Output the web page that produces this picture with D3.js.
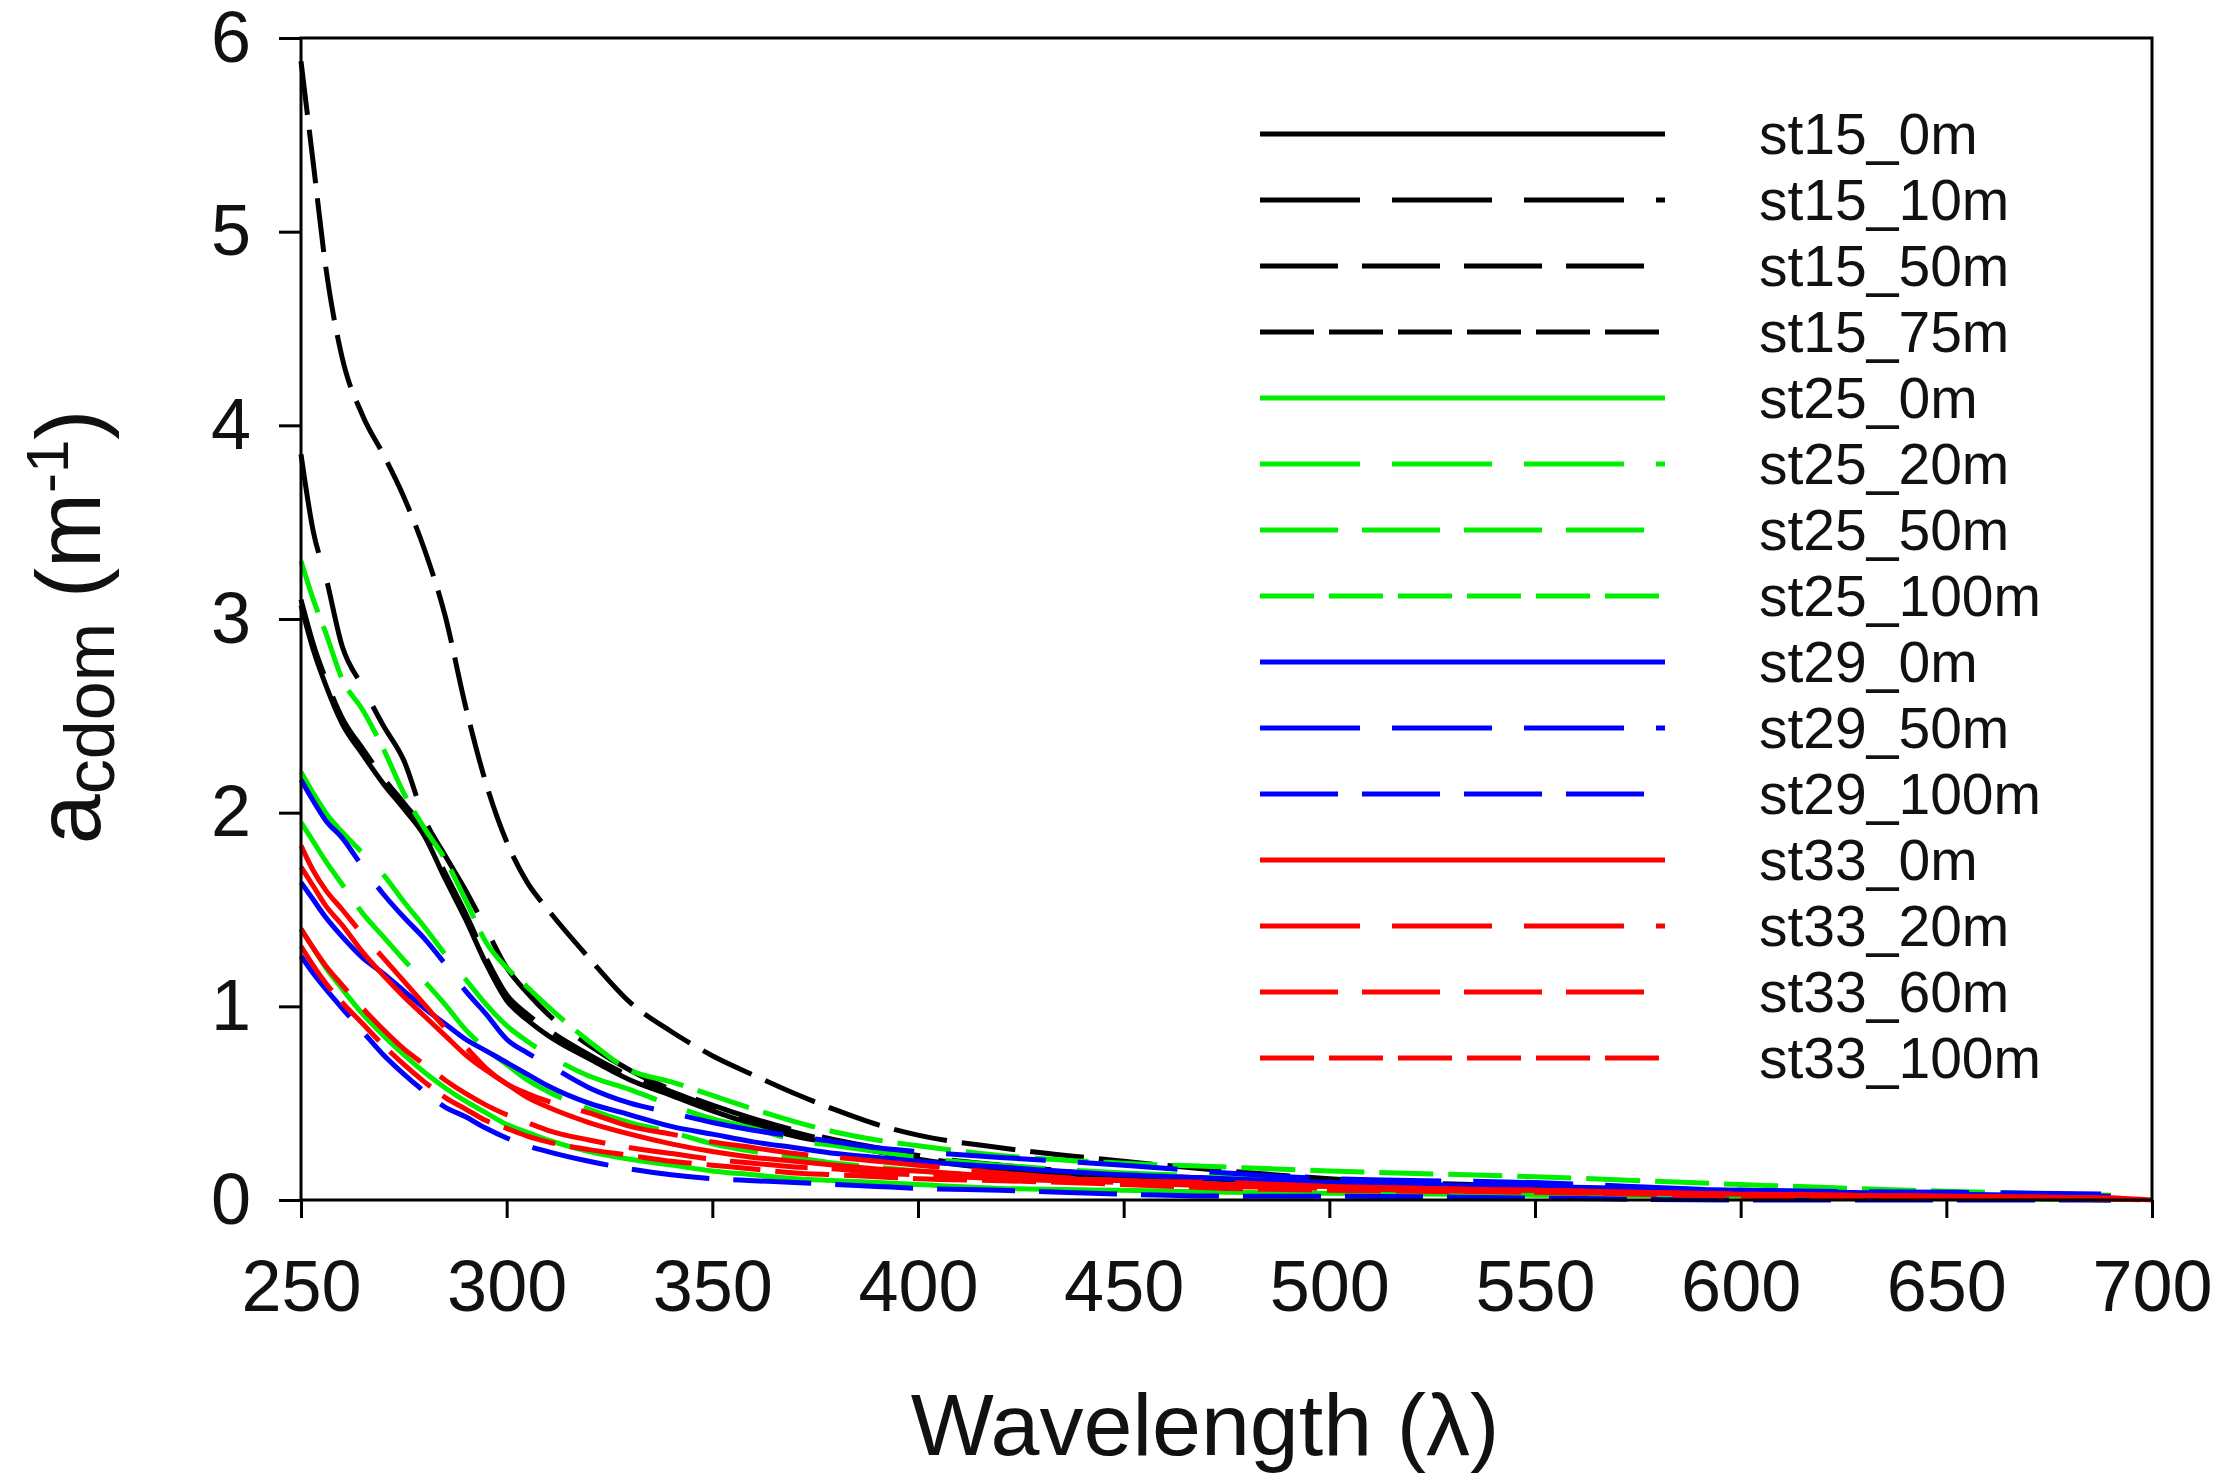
<!DOCTYPE html>
<html>
<head>
<meta charset="utf-8">
<script src="https://cdn.jsdelivr.net/npm/d3@7"></script>
<style>
  body { margin: 0; background: #fff; }
  svg { display: block; font-family: "Liberation Sans", Arial, sans-serif; }
</style>
</head>
<body>
<svg id="chart"></svg>
<script>
// wavelengths (nm) the curves were read at
const wavelengths = [250, 253, 256, 260, 265, 270, 275, 280, 285, 290, 295, 300, 305, 310, 320, 330,
                     340, 350, 360, 370, 380, 390, 400, 420, 450, 475, 500, 550, 600, 650, 690, 700];

const seriesNames = ['st15_0m', 'st15_10m', 'st15_50m', 'st15_75m',
                     'st25_0m', 'st25_20m', 'st25_50m', 'st25_100m',
                     'st29_0m', 'st29_50m', 'st29_100m',
                     'st33_0m', 'st33_20m', 'st33_60m', 'st33_100m'];

const st15_0m  = [3.07, 2.84, 2.66, 2.46, 2.30, 2.15, 2.02, 1.88, 1.66, 1.45, 1.22, 1.03, 0.93, 0.85, 0.73, 0.62,
                  0.54, 0.46, 0.39, 0.33, 0.29, 0.25, 0.21, 0.16, 0.12, 0.10, 0.08, 0.05, 0.03, 0.02, 0.00, null];
const st15_10m = [3.85, 3.45, 3.22, 2.86, 2.65, 2.45, 2.27, 1.97, 1.78, 1.60, 1.40, 1.20, 1.07, 0.96, 0.80, 0.67,
                  0.57, 0.49, 0.42, 0.36, 0.31, 0.27, 0.23, 0.18, 0.13, 0.10, 0.08, 0.05, 0.03, 0.02, 0.01, null];
const st15_50m = [3.10, 2.87, 2.69, 2.49, 2.33, 2.18, 2.05, 1.91, 1.69, 1.48, 1.25, 1.06, 0.96, 0.88, 0.75, 0.64,
                  0.56, 0.48, 0.41, 0.35, 0.30, 0.26, 0.22, 0.17, 0.13, 0.11, 0.09, 0.05, 0.03, 0.02, 0.01, null];
const st15_75m = [5.88, 5.35, 4.82, 4.35, 4.05, 3.85, 3.63, 3.36, 3.02, 2.55, 2.15, 1.85, 1.64, 1.50, 1.25, 1.02,
                  0.87, 0.745, 0.645, 0.55, 0.465, 0.39, 0.335, 0.27, 0.20, 0.15, 0.11, 0.07, 0.04, 0.02, 0.01, null];

const st25_0m   = [1.40, 1.30, 1.20, 1.09, 0.96, 0.85, 0.75, 0.66, 0.58, 0.51, 0.45, 0.39, 0.35, 0.31, 0.25, 0.21,
                   0.18, 0.15, 0.13, 0.11, 0.10, 0.09, 0.08, 0.06, 0.05, 0.04, 0.035, 0.025, 0.02, 0.01, 0.00, null];
const st25_20m  = [2.21, 2.10, 2.00, 1.90, 1.79, 1.68, 1.54, 1.41, 1.27, 1.14, 1.01, 0.90, 0.82, 0.75, 0.64, 0.57,
                   0.49, 0.42, 0.37, 0.31, 0.28, 0.25, 0.22, 0.18, 0.14, 0.12, 0.10, 0.07, 0.05, 0.03, 0.02, null];
const st25_50m  = [1.95, 1.85, 1.75, 1.63, 1.48, 1.36, 1.24, 1.13, 1.01, 0.88, 0.78, 0.70, 0.62, 0.56, 0.47, 0.40,
                   0.35, 0.29, 0.25, 0.22, 0.19, 0.17, 0.15, 0.12, 0.10, 0.08, 0.07, 0.05, 0.03, 0.02, 0.01, null];
const st25_100m = [3.30, 3.10, 2.93, 2.69, 2.53, 2.33, 2.10, 1.92, 1.76, 1.55, 1.33, 1.20, 1.10, 1.00, 0.82, 0.67,
                   0.61, 0.54, 0.47, 0.405, 0.35, 0.31, 0.28, 0.23, 0.19, 0.17, 0.15, 0.12, 0.08, 0.045, 0.025, null];

const st29_0m   = [1.64, 1.55, 1.46, 1.36, 1.25, 1.17, 1.08, 0.99, 0.91, 0.83, 0.77, 0.71, 0.65, 0.59, 0.50, 0.44,
                   0.38, 0.34, 0.30, 0.27, 0.24, 0.22, 0.20, 0.17, 0.13, 0.11, 0.09, 0.07, 0.05, 0.03, 0.02, null];
const st29_50m  = [2.17, 2.06, 1.96, 1.87, 1.72, 1.58, 1.46, 1.35, 1.22, 1.08, 0.96, 0.83, 0.76, 0.70, 0.58, 0.50,
                   0.45, 0.40, 0.36, 0.33, 0.30, 0.27, 0.25, 0.22, 0.18, 0.14, 0.11, 0.09, 0.05, 0.04, 0.03, null];
const st29_100m = [1.26, 1.17, 1.09, 0.99, 0.87, 0.75, 0.65, 0.56, 0.48, 0.43, 0.37, 0.32, 0.28, 0.25, 0.20, 0.16,
                   0.13, 0.11, 0.10, 0.09, 0.08, 0.07, 0.06, 0.05, 0.03, 0.02, 0.02, 0.01, 0.00, 0.00, 0.00, null];

const st33_0m   = [1.72, 1.62, 1.52, 1.42, 1.28, 1.16, 1.05, 0.95, 0.85, 0.75, 0.67, 0.60, 0.53, 0.48, 0.40, 0.34,
                   0.29, 0.25, 0.22, 0.20, 0.18, 0.16, 0.15, 0.12, 0.10, 0.08, 0.07, 0.05, 0.03, 0.02, 0.01, 0.00];
const st33_20m  = [1.83, 1.70, 1.60, 1.50, 1.37, 1.25, 1.13, 1.01, 0.89, 0.79, 0.68, 0.60, 0.55, 0.51, 0.45, 0.38,
                   0.34, 0.30, 0.27, 0.24, 0.22, 0.20, 0.18, 0.14, 0.10, 0.09, 0.07, 0.05, 0.03, 0.02, 0.01, 0.00];
const st33_60m  = [1.40, 1.30, 1.21, 1.11, 0.99, 0.88, 0.78, 0.70, 0.62, 0.55, 0.49, 0.44, 0.40, 0.36, 0.31, 0.27,
                   0.24, 0.21, 0.19, 0.17, 0.16, 0.14, 0.13, 0.11, 0.09, 0.07, 0.06, 0.04, 0.03, 0.015, 0.005, 0.00];
const st33_100m = [1.31, 1.21, 1.12, 1.02, 0.91, 0.80, 0.70, 0.61, 0.53, 0.47, 0.41, 0.37, 0.33, 0.30, 0.26, 0.23,
                   0.20, 0.18, 0.16, 0.14, 0.13, 0.12, 0.11, 0.10, 0.08, 0.06, 0.05, 0.04, 0.02, 0.01, 0.005, 0.00];

const seriesValues = [st15_0m, st15_10m, st15_50m, st15_75m,
                      st25_0m, st25_20m, st25_50m, st25_100m,
                      st29_0m, st29_50m, st29_100m,
                      st33_0m, st33_20m, st33_60m, st33_100m];

const xTicks = [250, 300, 350, 400, 450, 500, 550, 600, 650, 700];
const yTicks = [0, 1, 2, 3, 4, 5, 6];

// station colour, depth slot -> dash pattern
const stationColor = { st15: '#000000', st25: '#00ee00', st29: '#0000ff', st33: '#ff0000' };
const dashBySlot = [null, '100,32', '78,24', '54,15'];

const WIDTH = 2217;
const HEIGHT = 1481;
const PLOT = { left: 301, right: 2152, top: 38, bottom: 1200 };

const svg = d3.select('#chart')
    .attr('width', WIDTH)
    .attr('height', HEIGHT);

svg.append('rect')
    .attr('width', WIDTH)
    .attr('height', HEIGHT)
    .attr('fill', '#fff');

const x = d3.scaleLinear().domain([250, 700]).range([PLOT.left, PLOT.right]);
const y = d3.scaleLinear().domain([0, 6]).range([PLOT.bottom, PLOT.top]);

const stationSlot = {};
const series = seriesNames.map((name, i) => {
    const station = name.split('_')[0];
    const slot = stationSlot[station] || 0;
    stationSlot[station] = slot + 1;
    return {
        name,
        color: stationColor[station],
        dash: dashBySlot[slot],
        points: wavelengths.map((w, j) => ({ w, v: seriesValues[i][j] }))
    };
});

const line = d3.line()
    .defined(d => d.v !== null)
    .x(d => x(d.w))
    .y(d => y(d.v))
    .curve(d3.curveMonotoneX);

svg.append('g').selectAll('path.series')
    .data(series)
    .enter()
    .append('path')
    .attr('class', 'series')
    .attr('d', d => line(d.points))
    .attr('fill', 'none')
    .attr('stroke', d => d.color)
    .attr('stroke-width', 5)
    .attr('stroke-dasharray', d => d.dash);

// axes
const xAxis = svg.append('g')
    .attr('transform', `translate(0,${PLOT.bottom})`)
    .call(d3.axisBottom(x).tickValues(xTicks).tickSize(18).tickPadding(42).tickFormat(d3.format('d')));

const yAxis = svg.append('g')
    .attr('transform', `translate(${PLOT.left},0)`)
    .call(d3.axisLeft(y).tickValues(yTicks).tickSize(22).tickPadding(28).tickFormat(d3.format('d')));

[xAxis, yAxis].forEach(ax => {
    ax.select('.domain').remove();
    ax.selectAll('line').attr('stroke', '#000').attr('stroke-width', 3);
    ax.selectAll('text')
        .attr('fill', '#111')
        .style('font-size', '72px')
        .style('font-family', '"Liberation Sans", Arial, sans-serif');
});
xAxis.selectAll('text').attr('dy', '0.71em');

// frame
svg.append('rect')
    .attr('x', PLOT.left)
    .attr('y', PLOT.top)
    .attr('width', PLOT.right - PLOT.left)
    .attr('height', PLOT.bottom - PLOT.top)
    .attr('fill', 'none')
    .attr('stroke', '#000')
    .attr('stroke-width', 3);

// axis titles
svg.append('text')
    .attr('x', 1205)
    .attr('y', 1455)
    .attr('text-anchor', 'middle')
    .style('font-size', '88px')
    .attr('fill', '#111')
    .text('Wavelength (λ)');

const yTitle = svg.append('text')
    .attr('transform', `translate(100,${(PLOT.top + PLOT.bottom) / 2 + 8}) rotate(-90)`)
    .attr('text-anchor', 'middle')
    .attr('fill', '#111')
    .style('font-size', '90px');
yTitle.append('tspan').text('a');
yTitle.append('tspan').attr('dy', 14).style('font-size', '70px').text('cdom');
yTitle.append('tspan').attr('dy', -14).text(' (m');
yTitle.append('tspan').attr('dy', -32).style('font-size', '60px').text('-1');
yTitle.append('tspan').attr('dy', 32).text(')');

// legend
const LEGEND = { x0: 1260, x1: 1665, textX: 1759, y0: 134, step: 66 };
const items = svg.append('g').selectAll('g.item')
    .data(series)
    .enter()
    .append('g')
    .attr('class', 'item')
    .attr('transform', (d, i) => `translate(0,${LEGEND.y0 + i * LEGEND.step})`);

items.append('line')
    .attr('x1', LEGEND.x0)
    .attr('x2', LEGEND.x1)
    .attr('stroke', d => d.color)
    .attr('stroke-width', 5)
    .attr('stroke-dasharray', d => d.dash);

items.append('text')
    .attr('x', LEGEND.textX)
    .attr('y', 20)
    .attr('fill', '#111')
    .style('font-size', '57px')
    .text(d => d.name);
</script>
</body>
</html>
